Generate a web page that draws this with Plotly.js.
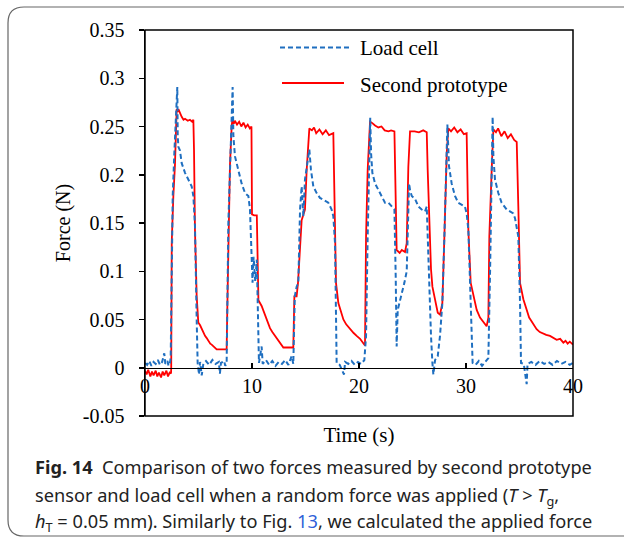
<!DOCTYPE html>
<html><head><meta charset="utf-8">
<script src="https://cdn.plot.ly/plotly-3.0.1.min.js"></script>
<style>html,body{margin:0;padding:0;background:#fff;} #chart{width:624px;height:541px;}</style>
</head><body><div id="chart"></div>
<script>
// Second prototype (red)
const protoTime = [0,0.15,0.3,0.5,0.65,0.8,1.0,1.15,1.3,1.5,1.65,1.8,2.0,2.15,2.3,2.43,
2.45,2.5,2.65,2.8,2.96,3.05,3.12,3.3,3.43,3.6,3.74,4.0,4.2,4.4,4.52,
4.58,4.67,4.83,4.98,5.15,5.3,5.45,5.61,5.75,5.92,6.1,6.23,6.4,6.54,6.7,6.85,7.2,7.63,
7.69,7.79,7.94,8.1,8.16,8.3,8.4,8.6,8.8,9.0,9.2,9.4,9.6,9.8,9.95,
10.0,10.2,10.45,10.55,10.6,10.9,11.1,11.37,11.68,11.9,12.15,12.4,12.62,12.93,13.3,13.86,
13.96,14.17,14.3,14.49,14.64,14.95,15.11,15.36,15.6,15.8,16.0,16.3,16.6,16.9,17.2,17.6,
17.76,17.85,18.07,18.3,18.54,18.8,19.16,19.5,19.78,20.1,20.3,20.56,
20.66,20.81,21.03,21.19,21.5,21.81,22.1,22.4,22.75,23.0,23.31,
23.37,23.52,23.8,24.0,24.3,24.46,24.61,24.77,25.2,25.6,26.0,26.33,
26.42,26.55,26.73,26.86,27.11,27.36,27.57,27.79,27.98,28.2,28.35,28.6,28.9,29.2,29.5,29.8,30.06,
30.22,30.44,30.69,31.0,31.31,31.62,31.93,32.09,32.18,32.4,32.56,32.8,33.0,33.3,33.6,33.9,34.2,34.5,34.74,
34.89,35.05,35.36,35.67,35.9,36.14,36.4,36.6,36.9,37.23,37.5,37.85,38.1,38.47,38.8,39.1,39.3,39.5,39.7,40.0];
const protoForce = [-0.003,-0.007,-0.002,-0.009,-0.004,-0.008,-0.003,-0.009,-0.005,-0.01,-0.004,-0.008,-0.003,-0.009,-0.005,-0.006,
0.0,0.13,0.178,0.21,0.268,0.265,0.268,0.262,0.26,0.257,0.258,0.256,0.257,0.255,0.257,
0.226,0.143,0.074,0.047,0.044,0.04,0.037,0.033,0.031,0.028,0.025,0.024,0.022,0.021,0.019,0.019,0.019,0.019,
0.06,0.143,0.21,0.25,0.257,0.253,0.256,0.252,0.255,0.25,0.254,0.249,0.252,0.248,0.25,
0.159,0.158,0.158,0.1,0.07,0.064,0.058,0.05,0.041,0.037,0.033,0.029,0.026,0.021,0.021,0.021,
0.074,0.074,0.088,0.12,0.153,0.164,0.205,0.248,0.246,0.249,0.243,0.247,0.242,0.246,0.241,0.243,
0.157,0.088,0.067,0.058,0.05,0.045,0.04,0.036,0.033,0.03,0.027,0.023,
0.136,0.205,0.255,0.254,0.251,0.249,0.25,0.246,0.245,0.246,0.245,
0.2,0.122,0.119,0.122,0.12,0.129,0.208,0.245,0.245,0.244,0.246,0.244,
0.205,0.15,0.102,0.084,0.071,0.057,0.055,0.067,0.136,0.222,0.248,0.245,0.249,0.244,0.247,0.242,0.243,
0.143,0.088,0.074,0.06,0.052,0.047,0.043,0.052,0.136,0.205,0.247,0.244,0.248,0.24,0.245,0.238,0.242,0.236,0.234,
0.167,0.088,0.071,0.06,0.052,0.048,0.043,0.04,0.037,0.035,0.034,0.033,0.031,0.029,0.03,0.026,0.028,0.025,0.027,0.024];

// Load cell (blue, dashed)
const loadTime = [0,0.2,0.4,0.6,0.8,1.0,1.2,1.4,1.6,1.8,1.9,2.1,2.2,2.33,
2.4,2.49,2.59,2.74,2.9,3.02,3.06,3.12,3.27,3.43,3.74,4.05,4.36,4.52,4.67,4.83,4.92,
5.05,5.15,5.3,5.45,5.7,6.0,6.3,6.6,6.9,7.0,7.1,7.4,7.5,
7.63,7.79,7.94,8.1,8.19,8.26,8.41,8.72,9.03,9.35,9.66,9.81,9.97,10.05,10.15,10.3,10.45,10.55,10.65,
10.9,11.0,11.3,11.6,11.9,12.2,12.5,12.8,13.1,13.4,13.7,13.86,
14.0,14.17,14.33,14.49,14.64,14.8,14.95,15.11,15.36,15.51,15.73,16.04,16.35,16.67,17.13,17.44,17.6,17.76,17.85,17.91,
18.2,18.6,18.7,19.0,19.3,19.6,19.9,20.2,20.5,
20.66,20.81,20.94,21.03,21.05,21.13,21.25,21.5,21.81,22.12,22.43,22.75,23.06,23.31,23.43,23.52,
23.62,23.77,23.99,24.24,24.46,24.55,24.68,24.77,24.93,25.24,25.55,25.86,26.17,26.33,26.42,26.55,26.73,26.86,26.95,
27.11,27.36,27.57,27.79,27.98,28.1,28.23,28.26,28.41,28.66,28.97,29.28,29.9,30.06,30.22,30.38,30.53,30.62,
30.9,31.2,31.5,31.8,32.09,
32.25,32.4,32.49,32.56,32.71,33.02,33.33,33.8,34.42,34.58,34.89,35.05,35.14,
35.4,35.67,35.75,36.1,36.5,36.9,37.3,37.7,38.1,38.5,38.9,39.3,39.7,40.0];
const loadForce = [0.005,0.003,0.007,0.002,0.006,0.004,0.008,0.003,0.006,0.015,0.004,0.007,0.002,0.005,
0.01,0.1,0.178,0.222,0.257,0.291,0.24,0.229,0.225,0.212,0.202,0.195,0.188,0.178,0.147,0.05,0.005,
-0.007,0.006,-0.008,0.004,0.007,0.003,0.008,0.004,0.006,-0.006,0.005,0.007,0.002,
0.005,0.15,0.21,0.247,0.291,0.24,0.219,0.205,0.191,0.181,0.178,0.164,0.1,0.088,0.115,0.09,0.112,0.05,0.005,
0.022,0.004,0.008,0.003,0.007,0.002,0.006,0.004,0.008,0.003,0.012,0.004,
0.074,0.084,0.088,0.164,0.188,0.157,0.195,0.209,0.226,0.205,0.188,0.181,0.176,0.174,0.171,0.164,0.157,0.129,0.067,0.005,
0.003,-0.007,0.006,0.004,0.007,0.003,0.006,0.004,0.008,
0.033,0.136,0.205,0.257,0.259,0.222,0.202,0.191,0.184,0.178,0.171,0.171,0.167,0.164,0.095,0.022,
0.06,0.067,0.074,0.088,0.1,0.136,0.191,0.184,0.178,0.175,0.167,0.164,0.162,0.167,0.136,0.084,0.033,0.005,-0.007,
0.008,0.012,0.033,0.067,0.136,0.188,0.25,0.252,0.209,0.191,0.178,0.171,0.167,0.16,0.143,0.084,0.053,0.005,
0.003,0.007,0.002,0.006,0.01,
0.1,0.219,0.26,0.219,0.195,0.181,0.171,0.164,0.16,0.155,0.136,0.067,0.005,
0.004,-0.017,0.004,0.006,0.003,0.007,0.004,0.006,0.003,0.007,0.004,0.006,0.003,0.005];

const seriesNames = ['Load cell', 'Second prototype'];
const xTickVals = [0, 10, 20, 30, 40];
const xTickText = ['0', '10', '20', '30', '40'];
const yTickVals = [-0.05, 0, 0.05, 0.1, 0.15, 0.2, 0.25, 0.3, 0.35];
const yTickText = ['-0.05', '0', '0.05', '0.1', '0.15', '0.2', '0.25', '0.3', '0.35'];
const xTitle = 'Time (s)';
const yTitle = 'Force (N)';
const captionLines = [
  '<b>Fig. 14</b>  Comparison of two forces measured by second prototype',
  'sensor and load cell when a random force was applied (<i>T</i> > <i>T</i><sub>g</sub>,',
  '<i>h</i><sub>T</sub> = 0.05 mm). Similarly to Fig. <span style="color:#2f5fd8">13</span>, we calculated the applied force'
];

const BLUE = '#1f6fc0', RED = '#ff0000';
const serif = 'Liberation Serif, Times New Roman, serif';

// layout geometry (pixels)
const W = 624, H = 541, L = 145, R = 51, T = 30, B = 125;
const pw = W - L - R, ph = H - T - B;
const px2x = p => (p - L) / pw;
const py2y = p => (H - B - p) / ph;

// rounded outer frame
const fx0 = 8, fy0 = 7, fx1 = 660, fy1 = 536, rad = 16;
const framePath = [
  'M', px2x(fx0 + rad), py2y(fy0),
  'L', px2x(fx1), py2y(fy0),
  'L', px2x(fx1), py2y(fy1),
  'L', px2x(fx0 + rad), py2y(fy1),
  'Q', px2x(fx0), py2y(fy1), px2x(fx0), py2y(fy1 - rad),
  'L', px2x(fx0), py2y(fy0 + rad),
  'Q', px2x(fx0), py2y(fy0), px2x(fx0 + rad), py2y(fy0)
].join(' ');

const traces = [
  {x: protoTime, y: protoForce, type: 'scatter', mode: 'lines', name: seriesNames[1],
   line: {color: RED, width: 1.8}, showlegend: false},
  {x: loadTime, y: loadForce, type: 'scatter', mode: 'lines', name: seriesNames[0],
   line: {color: BLUE, width: 2, dash: '5px,3px'}, showlegend: false}
];

const captionY = [467, 496, 522];
const annotations = captionLines.map((t, i) => ({
  xref: 'paper', yref: 'paper', x: px2x(33), y: py2y(captionY[i]),
  xanchor: 'left', yanchor: 'middle', showarrow: false, align: 'left',
  text: t, font: {family: 'Noto Sans, sans-serif', size: 18.2, color: '#222'}
}));
annotations.push(
  {xref: 'paper', yref: 'paper', x: px2x(358), y: py2y(48.5), xanchor: 'left', yanchor: 'middle',
   showarrow: false, text: seriesNames[0], font: {family: serif, size: 21, color: '#000'}},
  {xref: 'paper', yref: 'paper', x: px2x(358), y: py2y(85), xanchor: 'left', yanchor: 'middle',
   showarrow: false, text: seriesNames[1], font: {family: serif, size: 21, color: '#000'}}
);

const layout = {
  width: W, height: H,
  margin: {l: L, r: R, t: T, b: B, pad: 0},
  paper_bgcolor: '#fff', plot_bgcolor: '#fff',
  font: {family: serif, size: 20, color: '#000'},
  xaxis: {
    range: [0, 40], tickvals: xTickVals, ticktext: xTickText,
    anchor: 'free', position: 0.125,
    showline: true, linecolor: '#000', linewidth: 1.5,
    ticks: 'inside', ticklen: 5, tickcolor: '#000', tickwidth: 1.5,
    showgrid: false, zeroline: false,
    tickfont: {family: serif, size: 20, color: '#000'},
    title: {text: xTitle, font: {family: serif, size: 21, color: '#000'}, standoff: 31}
  },
  yaxis: {
    range: [-0.05, 0.35], tickvals: yTickVals, ticktext: yTickText,
    showline: true, linecolor: '#000', linewidth: 1.5,
    ticks: 'outside', ticklen: 5, tickcolor: '#000', tickwidth: 1.5,
    showgrid: false, zeroline: false, ticklabelstandoff: 10,
    tickfont: {family: serif, size: 20, color: '#000'},
    title: {text: yTitle, font: {family: serif, size: 20, color: '#000'}, standoff: 7}
  },
  shapes: [
    {type: 'rect', xref: 'paper', yref: 'paper', x0: 0, x1: 1, y0: 0, y1: 1,
     line: {color: '#000', width: 1.5}},
    {type: 'path', xref: 'paper', yref: 'paper', path: framePath,
     line: {color: '#666', width: 1.2}},
    {type: 'line', xref: 'paper', yref: 'paper', x0: px2x(280), x1: px2x(350), y0: py2y(47.5), y1: py2y(47.5),
     line: {color: BLUE, width: 2, dash: '5px,3px'}},
    {type: 'line', xref: 'paper', yref: 'paper', x0: px2x(282), x1: px2x(344), y0: py2y(83), y1: py2y(83),
     line: {color: RED, width: 1.8}}
  ],
  annotations: annotations
};

Plotly.newPlot('chart', traces, layout, {displayModeBar: false, staticPlot: true});
</script>
</body></html>
